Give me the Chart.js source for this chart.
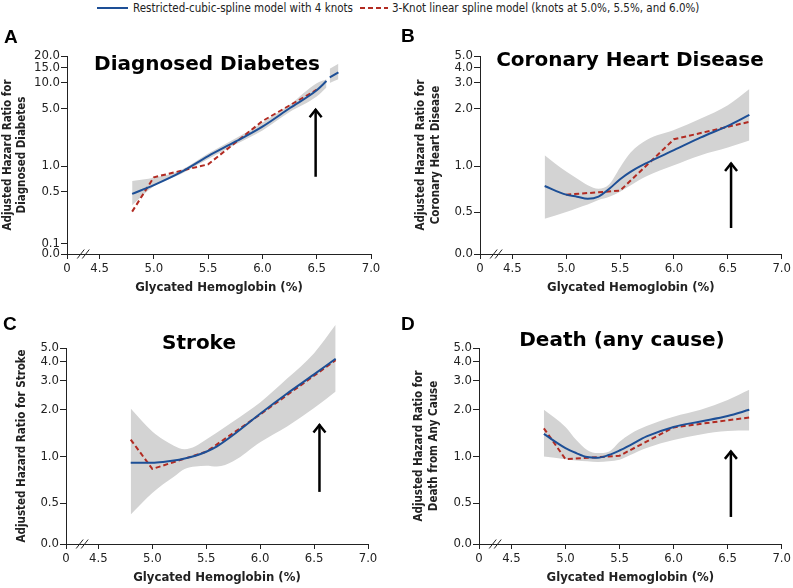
<!DOCTYPE html>
<html>
<head>
<meta charset="utf-8">
<script src="https://cdn.jsdelivr.net/npm/chart.js@4/dist/chart.umd.min.js"></script>
<style>
  body { margin: 0; width: 793px; height: 588px; position: relative; overflow: hidden; background: #fff; }
  .box { position: absolute; }
  .txt { position: absolute; white-space: nowrap; color: #000; z-index: 2; }
  .ttl { font: bold 20px 'DejaVu Sans', sans-serif; line-height: 20px; width: 400px; text-align: center; }
  .let { font: bold 19px 'Liberation Sans', Arial, sans-serif; line-height: 19px; }
  .leg { font: 11.5px 'Liberation Sans Narrow', 'DejaVu Sans Condensed', sans-serif; line-height: 16px; top: 0; color: #222; }
  .swatch { position: absolute; top: 7px; height: 2px; }
</style>
</head>
<body>

<div class="swatch" style="left:97px;width:31px;background:#1d4f96"></div>
<div class="txt leg" style="left:133px">Restricted-cubic-spline model with 4 knots</div>
<div class="swatch" style="left:360px;width:28px;background:repeating-linear-gradient(to right,#b22b22 0 5px,transparent 5px 8px)"></div>
<div class="txt leg" style="left:392px">3-Knot linear spline model (knots at 5.0%, 5.5%, and 6.0%)</div>

<div class="box" style="left:0;top:30px;width:396px;height:270px"><canvas id="chartA"></canvas></div>
<div class="box" style="left:400px;top:30px;width:393px;height:270px"><canvas id="chartB"></canvas></div>
<div class="box" style="left:0;top:300px;width:396px;height:290px"><canvas id="chartC"></canvas></div>
<div class="box" style="left:400px;top:300px;width:393px;height:290px"><canvas id="chartD"></canvas></div>

<div class="txt let" style="left:4px;top:27px">A</div>
<div class="txt let" style="left:401px;top:26px">B</div>
<div class="txt let" style="left:3px;top:314px">C</div>
<div class="txt let" style="left:401px;top:314px">D</div>

<div class="txt ttl" style="left:7px;top:53px">Diagnosed Diabetes</div>
<div class="txt ttl" style="left:430px;top:49px">Coronary Heart Disease</div>
<div class="txt ttl" style="left:-1px;top:332px">Stroke</div>
<div class="txt ttl" style="left:422px;top:329px">Death (any cause)</div>

<script>
// ось X: "0" стоит на 4.2, дальше разрыв
const xTickVals = [4.2, 4.5, 5.0, 5.5, 6.0, 6.5, 7.0];
const xBreak = 4.35;

// шкалы Y (значения тиков и их доля высоты оси)
const aTicks = [0, 0.1, 0.5, 1, 5, 10, 15, 20];
const aTickPos = [0, 0.053, 0.314, 0.444, 0.736, 0.864, 0.942, 1];
const bTicks = [0, 0.5, 1, 2, 3, 4, 5];
const bTickPos = [0, 0.212, 0.444, 0.736, 0.864, 0.942, 1];
const cdTicks = [0, 0.5, 1, 2, 3, 4, 5];
const cdTickPos = [0, 0.209, 0.447, 0.688, 0.833, 0.930, 1];

// A - диабет
const aSplineX = [4.8, 5.0, 5.25, 5.5, 5.75, 6.0, 6.25, 6.5, 6.59, 6.6, 6.62, 6.7];
const aSpline = [0.47, 0.60, 0.85, 1.32, 1.97, 3.0, 5.0, 8.2, 10.5, null, 11.6, 13.2];
const aUpper = [0.67, 0.73, 0.90, 1.42, 2.15, 3.35, 5.5, 9.9, 11.0, null, 14.5, 16.5];
const aLower = [0.33, 0.58, 0.81, 1.22, 1.82, 2.7, 4.5, 6.9, 8.8, null, 10.0, 11.0];
const aLinX = [4.8, 5.0, 5.5, 6.0, 6.5];
const aLin = [0.27, 0.74, 1.05, 3.5, 8.3];
const aArrow = [6.49, 0.75, 5.0];

// B - ИБС
const bSplineX = [4.8, 5.0, 5.1, 5.2, 5.3, 5.4, 5.5, 5.6, 5.75, 6.0, 6.25, 6.5, 6.7];
const bSpline = [0.74, 0.65, 0.63, 0.61, 0.63, 0.71, 0.82, 0.92, 1.04, 1.21, 1.41, 1.62, 1.85];
const bUpper = [1.14, 0.92, 0.83, 0.75, 0.71, 0.76, 0.98, 1.18, 1.37, 1.54, 1.77, 2.1, 2.72];
const bLower = [0.42, 0.50, 0.53, 0.56, 0.60, 0.63, 0.68, 0.75, 0.86, 1.01, 1.14, 1.25, 1.36];
const bLinX = [5.0, 5.5, 6.0, 6.7];
const bLin = [0.65, 0.69, 1.38, 1.70];
const bArrow = [6.53, 0.31, 1.05];

// C - инсульт
const cSplineX = [4.8, 5.0, 5.1, 5.2, 5.3, 5.4, 5.5, 5.6, 5.75, 6.0, 6.25, 6.5, 6.7];
const cSpline = [0.91, 0.91, 0.92, 0.94, 0.97, 1.01, 1.07, 1.16, 1.37, 1.87, 2.5, 3.3, 4.2];
const cUpper = [2.02, 1.44, 1.28, 1.17, 1.11, 1.16, 1.28, 1.42, 1.67, 2.2, 3.1, 4.6, 7.3];
const cLower = [0.36, 0.58, 0.66, 0.74, 0.83, 0.86, 0.87, 0.86, 0.93, 1.23, 1.55, 2.03, 2.57];
const cLinX = [4.8, 5.0, 5.5, 6.0, 6.7];
const cLin = [1.28, 0.83, 1.07, 1.85, 4.1];
const cArrow = [6.55, 0.59, 1.62];

// D - смерть
const dSplineX = [4.8, 5.0, 5.1, 5.2, 5.3, 5.4, 5.5, 5.6, 5.75, 6.0, 6.25, 6.5, 6.7];
const dSpline = [1.39, 1.13, 1.05, 0.99, 0.98, 1.02, 1.09, 1.18, 1.34, 1.54, 1.67, 1.81, 1.98];
const dUpper = [1.98, 1.54, 1.27, 1.10, 1.05, 1.07, 1.24, 1.39, 1.56, 1.79, 1.98, 2.28, 2.64];
const dLower = [1.0, 0.96, 0.94, 0.93, 0.92, 0.93, 0.95, 1.02, 1.13, 1.27, 1.38, 1.45, 1.46];
const dLinX = [4.8, 5.0, 5.5, 6.0, 6.7];
const dLin = [1.51, 0.96, 1.01, 1.53, 1.77];
const dArrow = [6.53, 0.33, 1.10];

const BLUE = '#1d4f96';
const RED = '#b22b22';
const BAND = '#d3d3d3';
const INK = '#222';
const NARROW = "'Liberation Sans Narrow', 'DejaVu Sans Condensed', sans-serif";

// шкала Y: кусочно-логарифмическая, 0 внизу
class KnotScale extends Chart.Scale {
    determineDataLimits() {
        const k = this.options.knots;
        this.min = k[0];
        this.max = k[k.length - 1];
    }
    buildTicks() {
        return this.options.knots.map(v => ({ value: v }));
    }
    getPixelForValue(v) {
        if (v === null || v === undefined || isNaN(v)) return NaN;
        const k = this.options.knots, p = this.options.knotPos;
        let i = 0;
        while (i < k.length - 2 && v > k[i + 1]) i++;
        let t;
        if (k[i] <= 0) t = (v - k[i]) / (k[i + 1] - k[i]);
        else t = Math.log(v / k[i]) / Math.log(k[i + 1] / k[i]);
        return this.getPixelForDecimal(p[i] + t * (p[i + 1] - p[i]));
    }
    getPixelForTick(i) {
        return this.getPixelForValue(this.ticks[i].value);
    }
    getValueForPixel() {
        return null;
    }
}
KnotScale.id = 'knot';
KnotScale.defaults = {};
Chart.register(KnotScale);

// стрелка и знак разрыва оси
const marks = {
    id: 'marks',
    afterDraw(chart, args, opts) {
        const ctx = chart.ctx, xs = chart.scales.x, ys = chart.scales.y;
        ctx.save();
        ctx.strokeStyle = INK;
        ctx.lineWidth = 1;
        const bx = xs.getPixelForValue(xBreak), by = xs.top;
        for (const dx of [-2.5, 2.5]) {
            ctx.beginPath();
            ctx.moveTo(bx + dx - 3.5, by + 4.5);
            ctx.lineTo(bx + dx + 3.5, by - 4.5);
            ctx.stroke();
        }
        const ax = xs.getPixelForValue(opts.arrow[0]);
        const y0 = ys.getPixelForValue(opts.arrow[1]);
        const y1 = ys.getPixelForValue(opts.arrow[2]);
        ctx.strokeStyle = '#000';
        ctx.lineWidth = 2.5;
        ctx.beginPath();
        ctx.moveTo(ax, y0);
        ctx.lineTo(ax, y1 + 1);
        ctx.stroke();
        ctx.beginPath();
        ctx.moveTo(ax - 6, y1 + 9);
        ctx.lineTo(ax, y1 + 1.5);
        ctx.lineTo(ax + 6, y1 + 9);
        ctx.stroke();
        ctx.restore();
    }
};

// полоса ДИ может выходить выше оси (панель C)
const noClip = {
    id: 'noClip',
    beforeDatasetsDraw(chart) {
        chart._areaTop = chart.chartArea.top;
        chart.chartArea.top = 0;
    },
    afterDatasetsDraw(chart) {
        chart.chartArea.top = chart._areaTop;
    }
};

function pts(xs, ys) {
    return xs.map((x, i) => ({ x: x, y: ys[i] }));
}

function makePanel(id, p) {
    return new Chart(document.getElementById(id), {
        type: 'line',
        data: {
            datasets: [{
                data: pts(p.sx, p.spline),
                borderColor: BLUE,
                borderWidth: 2,
                pointRadius: 0,
                cubicInterpolationMode: 'monotone',
                fill: false
            }, {
                data: pts(p.lx, p.lin),
                borderColor: RED,
                borderWidth: 2,
                borderDash: [5, 3],
                pointRadius: 0,
                tension: 0,
                fill: false
            }, {
                data: pts(p.sx, p.upper),
                borderColor: 'transparent',
                borderWidth: 0,
                backgroundColor: BAND,
                pointRadius: 0,
                cubicInterpolationMode: 'monotone',
                fill: '+1',
                clip: false
            }, {
                data: pts(p.sx, p.lower),
                borderColor: 'transparent',
                borderWidth: 0,
                pointRadius: 0,
                cubicInterpolationMode: 'monotone',
                fill: false,
                clip: false
            }]
        },
        options: {
            responsive: true,
            maintainAspectRatio: false,
            animation: false,
            events: [],
            layout: { padding: { top: p.padTop, right: p.padRight, left: 0, bottom: 0 } },
            plugins: {
                legend: { display: false },
                tooltip: { enabled: false },
                marks: { arrow: p.arrow }
            },
            scales: {
                x: {
                    type: 'linear',
                    min: 4.2,
                    max: 7.0,
                    afterBuildTicks: s => { s.ticks = xTickVals.map(v => ({ value: v })); },
                    afterFit: s => { s.height = 46; },
                    ticks: {
                        autoSkip: false, maxRotation: 0, padding: 2, color: INK,
                        font: { family: NARROW, size: 13 },
                        callback: v => v === xTickVals[0] ? '0' : v.toFixed(1)
                    },
                    grid: { drawOnChartArea: false, tickLength: 5, color: INK },
                    border: { display: true, color: INK, width: 1 },
                    title: {
                        display: true, text: 'Glycated Hemoglobin (%)', color: INK,
                        font: { family: NARROW, size: 13, weight: 'bold', lineHeight: 1.1 },
                        padding: { top: 0, bottom: 5 }
                    }
                },
                y: {
                    type: 'knot',
                    knots: p.ticks,
                    knotPos: p.tickPos,
                    afterFit: s => { s.width = p.yWidth; },
                    ticks: {
                        autoSkip: false, padding: 1, color: INK,
                        font: { family: NARROW, size: 13 },
                        callback: v => v.toFixed(1)
                    },
                    grid: { drawOnChartArea: false, tickLength: 6, color: INK },
                    border: { display: true, color: INK, width: 1 },
                    title: {
                        display: true, text: p.yTitle, color: INK,
                        font: { family: NARROW, size: 11.5, weight: 'bold', lineHeight: 1.25 },
                        padding: { top: p.yTitlePad, bottom: 0 }
                    }
                }
            }
        },
        plugins: [marks, noClip]
    });
}

makePanel('chartA', {
    sx: aSplineX, spline: aSpline, upper: aUpper, lower: aLower, lx: aLinX, lin: aLin, arrow: aArrow,
    ticks: aTicks, tickPos: aTickPos, yWidth: 67, padTop: 26, padRight: 25, yTitlePad: 0.5,
    yTitle: ['Adjusted Hazard Ratio for', 'Diagnosed Diabetes']
});
makePanel('chartB', {
    sx: bSplineX, spline: bSpline, upper: bUpper, lower: bLower, lx: bLinX, lin: bLin, arrow: bArrow,
    ticks: bTicks, tickPos: bTickPos, yWidth: 80, padTop: 26, padRight: 10, yTitlePad: 14,
    yTitle: ['Adjusted Hazard Ratio for', 'Coronary Heart Disease']
});
makePanel('chartC', {
    sx: cSplineX, spline: cSpline, upper: cUpper, lower: cLower, lx: cLinX, lin: cLin, arrow: cArrow,
    ticks: cdTicks, tickPos: cdTickPos, yWidth: 66, padTop: 48, padRight: 28, yTitlePad: 14.5,
    yTitle: 'Adjusted Hazard Ratio for Stroke'
});
makePanel('chartD', {
    sx: dSplineX, spline: dSpline, upper: dUpper, lower: dLower, lx: dLinX, lin: dLin, arrow: dArrow,
    ticks: cdTicks, tickPos: cdTickPos, yWidth: 79, padTop: 48, padRight: 11, yTitlePad: 12,
    yTitle: ['Adjusted Hazard Ratio for', 'Death from Any Cause']
});
</script>
</body>
</html>
